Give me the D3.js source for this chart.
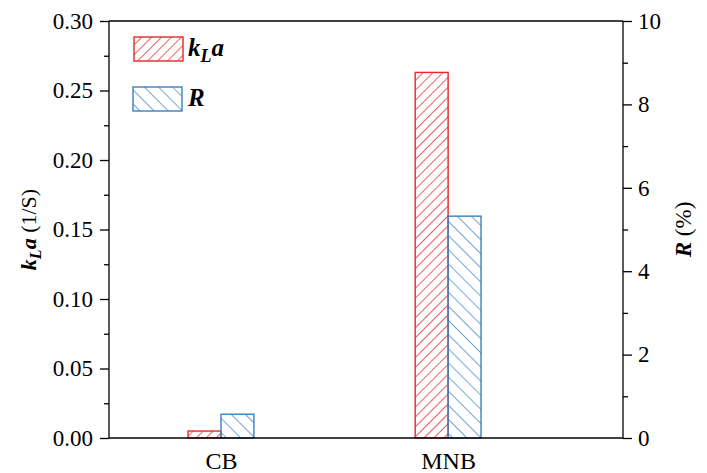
<!DOCTYPE html>
<html><head><meta charset="utf-8">
<script src="https://cdn.jsdelivr.net/npm/d3@7/dist/d3.min.js"></script>
<style>
html,body{margin:0;padding:0;background:#fff;}
svg{display:block;font-family:"Liberation Serif","Times New Roman",serif;}
</style></head>
<body>
<script>
const categories = ["CB", "MNB"];
const kLaValues = [0.005, 0.263];
const RValues = [0.57, 5.32];
const leftTicks = [0, 0.05, 0.10, 0.15, 0.20, 0.25, 0.30];
const rightTicks = [0, 2, 4, 6, 8, 10];

const W = 707, H = 473;
const m = {l:109, r:623, t:21, b:438};
const red = "#e8262c", blue = "#3a80c2";

const svg = d3.select("body").append("svg").attr("width", W).attr("height", H);
const defs = svg.append("defs");
const pr = defs.append("pattern").attr("id","hr").attr("patternUnits","userSpaceOnUse")
  .attr("width",7).attr("height",7).attr("patternTransform","rotate(45)");
pr.append("line").attr("x1",0).attr("y1",0).attr("x2",0).attr("y2",7).attr("stroke",red).attr("stroke-width",1.5);
const pb = defs.append("pattern").attr("id","hb").attr("patternUnits","userSpaceOnUse")
  .attr("width",10).attr("height",10).attr("patternTransform","rotate(-45)");
pb.append("line").attr("x1",0).attr("y1",0).attr("x2",0).attr("y2",10).attr("stroke",blue).attr("stroke-width",1.4);

const x = d3.scaleLinear().domain([0.507, 2.77]).range([m.l, m.r]);
const yL = d3.scaleLinear().domain([0, 0.30]).range([m.b, m.t]);
const yR = d3.scaleLinear().domain([0, 10]).range([m.b, m.t]);
const bw = 0.145;

const g = svg.append("g");
categories.forEach((c,i)=>{
  const xc = x(i+1);
  const w = x(1+bw) - x(1);
  g.append("rect").attr("x", xc - w).attr("y", yL(kLaValues[i])).attr("width", w)
    .attr("height", yL(0)-yL(kLaValues[i])).attr("fill","url(#hr)").attr("stroke",red).attr("stroke-width",1.4);
  g.append("rect").attr("x", xc).attr("y", yR(RValues[i])).attr("width", w)
    .attr("height", yR(0)-yR(RValues[i])).attr("fill","url(#hb)").attr("stroke",blue).attr("stroke-width",1.4);
});

const ax = svg.append("g").attr("stroke","#000").attr("stroke-width",1.3);
ax.append("line").attr("x1",m.l).attr("x2",m.r).attr("y1",m.b).attr("y2",m.b);
ax.append("line").attr("x1",m.l).attr("x2",m.r).attr("y1",m.t).attr("y2",m.t);

const fs = 23;
const la = svg.append("g").attr("transform",`translate(${m.l},0)`)
  .call(d3.axisLeft(yL).tickValues(leftTicks).tickFormat(d3.format(".2f")).tickSize(9).tickPadding(7));
const laMinor = svg.append("g").attr("transform",`translate(${m.l},0)`)
  .call(d3.axisLeft(yL).tickValues(d3.range(0.025,0.3,0.05)).tickFormat("").tickSize(5));
const ra = svg.append("g").attr("transform",`translate(${m.r},0)`)
  .call(d3.axisRight(yR).tickValues(rightTicks).tickFormat(d3.format("d")).tickSize(9).tickPadding(6));
const raMinor = svg.append("g").attr("transform",`translate(${m.r},0)`)
  .call(d3.axisRight(yR).tickValues([1,3,5,7,9]).tickFormat("").tickSize(5));
[la,laMinor,ra,raMinor].forEach(a=>{
  a.select(".domain").remove();
  a.selectAll("line").attr("stroke","#000").attr("stroke-width",1.3);
  a.selectAll("text").attr("font-size",fs).attr("font-family","Liberation Serif, serif").attr("fill","#000");
});
ax.append("line").attr("x1",m.l).attr("x2",m.l).attr("y1",m.t).attr("y2",m.b);
ax.append("line").attr("x1",m.r).attr("x2",m.r).attr("y1",m.t).attr("y2",m.b);

const xa = svg.append("g").attr("transform",`translate(0,${m.b})`)
  .call(d3.axisBottom(x).tickValues([1,2]).tickFormat((d)=>categories[d-1]).tickSize(0).tickPadding(14));
xa.select(".domain").remove();
xa.selectAll("text").attr("font-size",24).attr("font-family","Liberation Serif, serif").attr("fill","#000");

const lt = svg.append("text").attr("transform",`translate(36,${(m.t+m.b)/2}) rotate(-90)`)
  .attr("text-anchor","middle").attr("font-size",22).attr("fill","#000");
lt.append("tspan").attr("font-weight","bold").attr("font-style","italic").text("k");
lt.append("tspan").attr("font-weight","bold").attr("font-style","italic").attr("font-size",16).attr("dy",5).text("L");
lt.append("tspan").attr("font-weight","bold").attr("font-style","italic").attr("dy",-5).text("a");
lt.append("tspan").text(" (1/S)");

const rt = svg.append("text").attr("transform",`translate(691,${(m.t+m.b)/2}) rotate(-90)`)
  .attr("text-anchor","middle").attr("font-size",23).attr("fill","#000");
rt.append("tspan").attr("font-weight","bold").attr("font-style","italic").text("R");
rt.append("tspan").text(" (%)");

const lg = svg.append("g");
lg.append("rect").attr("x",134).attr("y",37).attr("width",49).attr("height",24)
  .attr("fill","url(#hr)").attr("stroke",red).attr("stroke-width",1.4);
lg.append("rect").attr("x",133).attr("y",87).attr("width",49).attr("height",24)
  .attr("fill","url(#hb)").attr("stroke",blue).attr("stroke-width",1.4);
const l1 = lg.append("text").attr("x",188).attr("y",56).attr("font-size",25).attr("font-weight","bold").attr("font-style","italic");
l1.append("tspan").text("k");
l1.append("tspan").attr("font-size",18).attr("dy",6).text("L");
l1.append("tspan").attr("dy",-6).text("a");
lg.append("text").attr("x",188).attr("y",106).attr("font-size",25).attr("font-weight","bold").attr("font-style","italic").text("R");
</script>
</body></html>
